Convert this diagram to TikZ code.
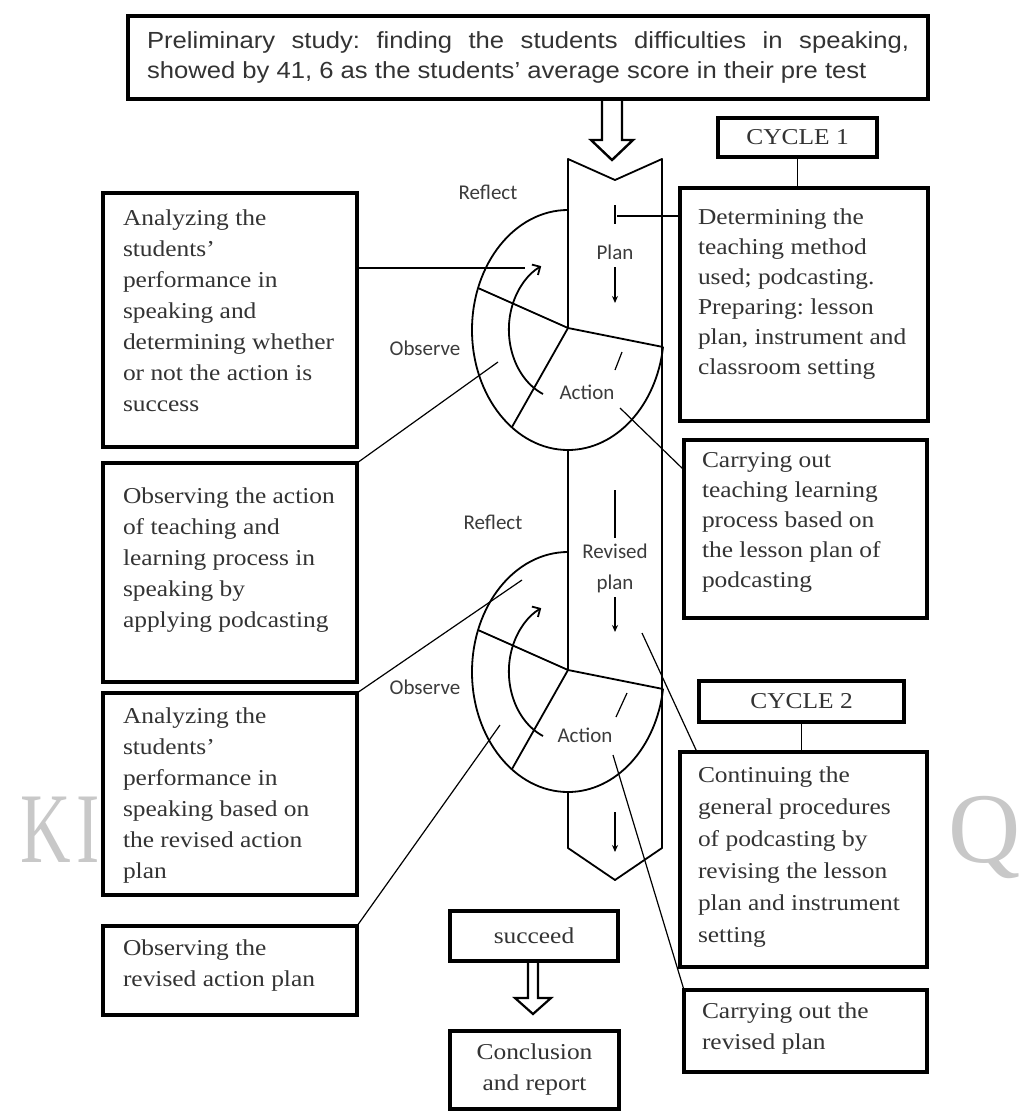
\documentclass[tikz,border=0pt]{standalone}
\usepackage{fontspec}
\setmainfont{Liberation Serif}[FakeStretch=1.12]
\newfontfamily\rsTopFam{Liberation Sans}[FakeStretch=1.1]
\newfontfamily\rsLblFam{Carlito}
\newfontfamily\rsWmFam{Liberation Serif}
\usetikzlibrary{arrows.meta,calc}
\newcommand{\rsBody}{\fontsize{22.7}{31}\selectfont}
\newcommand{\rsTop}{\rsTopFam\fontsize{23.3}{30}\selectfont}
\newcommand{\rsLbl}{\rsLblFam\fontsize{21}{31}\selectfont}
\definecolor{txtgray}{HTML}{333333}
\definecolor{lblgray}{HTML}{3C3C3C}
\definecolor{wmgray}{HTML}{C8C8C8}
\frenchspacing
\begin{document}
\begin{tikzpicture}[x=1pt,y=1pt,
  bx/.style={draw=black,line width=3.2pt,fill=white,inner sep=0pt,outer sep=0pt,anchor=north west,text=txtgray,font=\rsBody},
  tx/.style={inner sep=0pt,outer sep=0pt,anchor=north west,align=left,text=txtgray,font=\rsBody},
  lbl/.style={inner sep=0pt,text=lblgray,font=\rsLbl,align=center},
  wm/.style={anchor=base west,inner sep=0pt,text=wmgray,font=\rsWmFam\fontsize{100}{100}\selectfont},
  fig/.style={line width=1.8pt,line join=round},
  conn/.style={line width=1.2pt},
  hollow/.style={draw=black,line width=2.4pt,fill=white,line join=miter},
  smallarr/.style={line width=1.2pt,-{Stealth[length=7pt,width=6pt]}},
  circarr/.style={line width=1.8pt,-{Straight Barb[length=6pt,width=12pt]}}
]
\useasboundingbox (0,0) rectangle (1028,-1111);
\fill[white] (0,0) rectangle (1028,-1111);

% watermark fragments
\node[wm] (wmk) at (20,-862) {\scalebox{0.7}[1]{K}};
\node[wm] (wmi) at (76,-862) {\scalebox{0.7}[1]{I}};
\node[wm] (wmq) at (948,-862) {Q};

% central band
\draw[fig] (568,-328) -- (568,-159) -- (615,-180) -- (662,-159) -- (662,-848) -- (615,-880) -- (568,-848) -- (568,-792);
\draw[fig] (568,-450) -- (568,-670);

% the two spiral turns
\foreach \s in {0,342}{
  \begin{scope}[yshift=-\s]
    \draw[fig] (568,-210) arc[start angle=90,end angle=352,x radius=96,y radius=120];
    \draw[fig] (568,-328) -- (478,-288);
    \draw[fig] (568,-328) -- (663,-347);
    \draw[fig] (568,-328) -- (512,-427);
    \draw[circarr] (543,-394) arc[start angle=247,end angle=115,x radius=56,y radius=70];
  \end{scope}
}

% labels, cycle 1
\node[lbl] (refl1) at (488,-192) {Reflect};
\node[lbl] (obs1) at (425,-348) {Observe};
\node[lbl] (act1) at (587,-392) {Action};
\node[lbl] (plan1) at (615,-252) {Plan};
\draw[conn] (615,-205) -- (615,-224);
\draw[smallarr] (615,-267) -- (615,-303);
\draw[conn] (622,-352) -- (615,-370);

% labels, cycle 2
\node[lbl] (refl2) at (493,-522) {Reflect};
\node[lbl] (obs2) at (425,-687) {Observe};
\node[lbl] (act2) at (585,-735) {Action};
\node[lbl] (plan2) at (615,-568) {Revised\\plan};
\draw[conn] (615,-490) -- (615,-538);
\draw[smallarr] (615,-597) -- (615,-632);
\draw[conn] (627,-693) -- (616,-717);
\draw[smallarr] (615,-812) -- (615,-852);

% hollow arrows
\draw[hollow] (602,-100) -- (602,-140) -- (591,-140) -- (612,-160) -- (633,-140) -- (622,-140) -- (622,-100);
\draw[hollow,line width=2.2pt] (528,-962) -- (528,-998) -- (515,-998) -- (533,-1014) -- (551,-998) -- (538,-998) -- (538,-962);

% boxes
\node[bx,minimum width=800,minimum height=83] (top) at (128,-16) {};
\node[bx,minimum width=254,minimum height=254] (an1) at (103,-193) {};
\node[bx,minimum width=254,minimum height=219] (ob1) at (103,-463) {};
\node[bx,minimum width=254,minimum height=202] (an2) at (103,-693) {};
\node[bx,minimum width=254,minimum height=89] (ob2) at (103,-926) {};
\node[bx,minimum width=248,minimum height=233] (det) at (680,-188) {};
\node[bx,minimum width=243,minimum height=178] (car1) at (684,-440) {};
\node[bx,minimum width=247,minimum height=215] (con) at (680,-752) {};
\node[bx,minimum width=243,minimum height=82] (car2) at (684,-990) {};
\node[bx,minimum width=159,minimum height=39] (cyc1) at (718,-118) {CYCLE 1};
\node[bx,minimum width=205,minimum height=41] (cyc2) at (699,-681) {CYCLE 2};
\node[bx,minimum width=168,minimum height=50] (suc) at (450,-911) {succeed};
\node[bx,minimum width=169,minimum height=78,align=center] (concl) at (450,-1031) {Conclusion\\and report};

% connectors
\coordinate (c1) at (525,-268);
\draw[conn] (an1.east |- c1) -- (c1);
\coordinate (c2) at (617,-216);
\draw[conn] (c2) -- (c2 -| det.west);
\coordinate (c3) at (498,-362);
\draw[conn] (ob1.north east) -- (c3);
\coordinate (c4) at (620,-408);
\draw[conn] (c4) -- ($(car1.north west)+(0,-30)$);
\coordinate (c5) at (522,-580);
\draw[conn] (an2.north east) -- (c5);
\coordinate (c6) at (500,-725);
\draw[conn] (ob2.north east) -- (c6);
\coordinate (c7) at (642,-633);
\draw[conn] (c7) -- ($(con.north west)+(17,0)$);
\coordinate (c8) at (613,-755);
\draw[conn] (c8) -- (car2.north west);
\draw[conn] (cyc1.south) -- (cyc1.south |- det.north);
\draw[conn] (cyc2.south) -- (cyc2.south |- con.north);

% texts
\node[inner sep=0pt,outer sep=0pt,anchor=north west,align=left,text=txtgray,font=\rsTop] (toptx) at (147,-27)
  {\strut\makebox[762pt][s]{Preliminary study: finding the students difficulties in speaking,}\\showed by 41, 6 as the students’ average score in their pre test};
\node[tx] (an1t) at (123,-203.4) {\strut Analyzing the\\students’\\performance in\\speaking and\\determining whether\\or not the action is\\success};
\node[tx] (ob1t) at (123,-481.4) {\strut Observing the action\\of teaching and\\learning process in\\speaking by\\applying podcasting};
\node[tx] (an2t) at (123,-701.4) {\strut Analyzing the\\students’\\performance in\\speaking based on\\the revised action\\plan};
\node[tx] (ob2t) at (123,-933.4) {\strut Observing the\\revised action plan};
\node[tx,font=\fontsize{22.7}{30}\selectfont] (dett) at (698,-203.4) {\strut Determining the\\teaching method\\used; podcasting.\\Preparing: lesson\\plan, instrument and\\classroom setting};
\node[tx,font=\fontsize{22.7}{30}\selectfont] (car1t) at (702,-446.4) {\strut Carrying out\\teaching learning\\process based on\\the lesson plan of\\podcasting};
\node[tx,font=\fontsize{22.7}{32}\selectfont] (cont) at (698,-760.4) {\strut Continuing the\\general procedures\\of podcasting by\\revising the lesson\\plan and instrument\\setting};
\node[tx] (car2t) at (702,-996.4) {\strut Carrying out the\\revised plan};
\end{tikzpicture}
\end{document}
